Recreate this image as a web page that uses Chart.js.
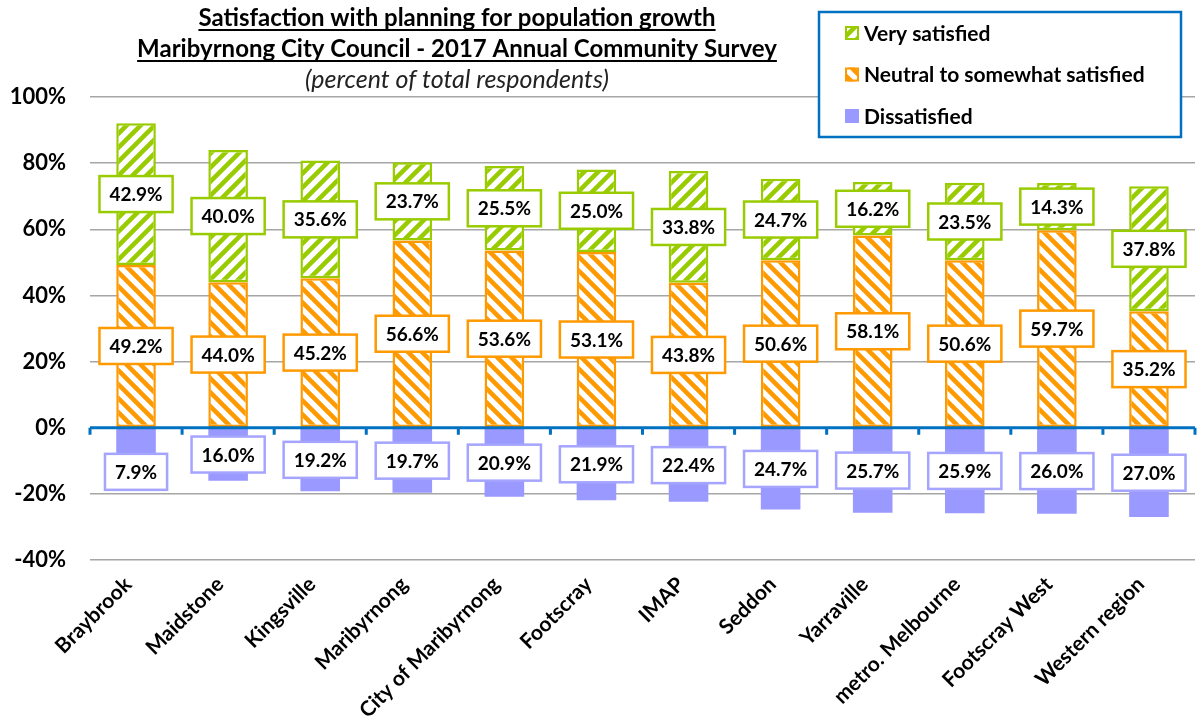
<!DOCTYPE html>
<html>
<head>
<meta charset="utf-8">
<script src="https://cdn.jsdelivr.net/npm/chart.js@4"></script>
<style>
  html, body { margin: 0; padding: 0; background: #fff; }
  #wrap { width: 1197px; height: 725px; }
</style>
</head>
<body>
<div id="wrap"><canvas id="satChart" width="1197" height="725"></canvas></div>
<script>
const categories = ['Braybrook', 'Maidstone', 'Kingsville', 'Maribyrnong', 'City of Maribyrnong', 'Footscray',
    'IMAP', 'Seddon', 'Yarraville', 'metro. Melbourne', 'Footscray West', 'Western region'];
const verySatisfied = [42.9, 40.0, 35.6, 23.7, 25.5, 25.0, 33.8, 24.7, 16.2, 23.5, 14.3, 37.8];
const neutral = [49.2, 44.0, 45.2, 56.6, 53.6, 53.1, 43.8, 50.6, 58.1, 50.6, 59.7, 35.2];
const dissatisfied = [-7.9, -16.0, -19.2, -19.7, -20.9, -21.9, -22.4, -24.7, -25.7, -25.9, -26.0, -27.0];
const yTicks = [100, 80, 60, 40, 20, 0, -20, -40];
const titleLines = ['Satisfaction with planning for population growth',
    'Maribyrnong City Council - 2017 Annual Community Survey'];
const subTitle = '(percent of total respondents)';

const GREEN = '#99cc00';
const ORANGE = '#ff9900';
const PURPLE = '#9999ff';
const BLUE = '#0070c0';
const FONT = 'Lato, "Open Sans", sans-serif';

function stripes(color, dir) {
    const s = 14;
    const c = document.createElement('canvas');
    c.width = s; c.height = s;
    const g = c.getContext('2d');
    g.fillStyle = '#fff';
    g.fillRect(0, 0, s, s);
    g.strokeStyle = color;
    g.lineWidth = 4.5;
    g.beginPath();
    for (let k = -1; k <= 1; k++) {
        if (dir === '/') {
            g.moveTo(k * s - 2, s + 2);
            g.lineTo(k * s + s + 2, -2);
        } else {
            g.moveTo(k * s - 2, -2);
            g.lineTo(k * s + s + 2, s + 2);
        }
    }
    g.stroke();
    return g.createPattern(c, 'repeat');
}

const greenFill = stripes(GREEN, '/');
const orangeFill = stripes(ORANGE, '\\');

// value labels in white boxes
const boxLabels = {
    id: 'boxLabels',
    afterDatasetsDraw(chart) {
        const ctx = chart.ctx;
        const zeroY = chart.scales.y.getPixelForValue(0);
        ctx.save();
        ctx.font = 'bold 19px ' + FONT;
        ctx.textAlign = 'center';
        ctx.textBaseline = 'middle';
        chart.data.datasets.forEach((ds, i) => {
            const meta = chart.getDatasetMeta(i);
            meta.data.forEach((el, j) => {
                const v = ds.data[j];
                const txt = Math.abs(v).toFixed(1) + '%';
                const w = ctx.measureText(txt).width + 20;
                const h = 36;
                let cy = (el.y + el.base) / 2;
                if (v < 0 && cy - h / 2 < zeroY + 4) cy = el.y + h / 2;
                ctx.fillStyle = '#fff';
                ctx.fillRect(el.x - w / 2, cy - h / 2, w, h);
                ctx.strokeStyle = ds.labelBorder;
                ctx.lineWidth = 2.5;
                ctx.strokeRect(el.x - w / 2, cy - h / 2, w, h);
                ctx.fillStyle = '#000';
                ctx.fillText(txt, el.x, cy + 1);
            });
        });
        ctx.restore();
    }
};

// blue zero axis with tick marks between categories
const zeroAxis = {
    id: 'zeroAxis',
    afterDatasetsDraw(chart) {
        const ctx = chart.ctx;
        const area = chart.chartArea;
        const y0 = chart.scales.y.getPixelForValue(0);
        const step = (area.right - area.left) / categories.length;
        ctx.save();
        ctx.strokeStyle = BLUE;
        ctx.lineWidth = 3;
        ctx.beginPath();
        ctx.moveTo(area.left, y0);
        ctx.lineTo(area.right, y0);
        for (let i = 0; i <= categories.length; i++) {
            const x = area.left + i * step;
            ctx.moveTo(x, y0);
            ctx.lineTo(x, y0 + 7);
        }
        ctx.stroke();
        ctx.restore();
    }
};

// title and legend box
const decor = {
    id: 'decor',
    afterDraw(chart) {
        const ctx = chart.ctx;
        ctx.save();
        ctx.fillStyle = '#000';
        ctx.textAlign = 'center';
        ctx.textBaseline = 'alphabetic';
        ctx.font = 'bold 24px ' + FONT;
        const cx = 457;
        titleLines.forEach((t, i) => {
            const by = 26 + i * 31;
            ctx.fillText(t, cx, by);
            const w = ctx.measureText(t).width;
            ctx.fillRect(cx - w / 2, by + 3, w, 2);
        });
        ctx.font = 'italic 25px ' + FONT;
        ctx.fillStyle = '#222';
        ctx.fillText(subTitle, cx, 88);

        // legend
        ctx.fillStyle = '#fff';
        ctx.fillRect(819, 12, 362, 125);
        ctx.strokeStyle = BLUE;
        ctx.lineWidth = 2.5;
        ctx.strokeRect(819, 12, 362, 125);
        const items = [chart.data.datasets[2], chart.data.datasets[1], chart.data.datasets[0]];
        ctx.font = 'bold 21px ' + FONT;
        ctx.textAlign = 'left';
        ctx.textBaseline = 'middle';
        items.forEach((ds, i) => {
            const y = 33 + i * 41.5;
            ctx.fillStyle = ds.backgroundColor;
            ctx.fillRect(845, y - 7, 14, 14);
            if (ds.borderWidth) {
                ctx.strokeStyle = ds.borderColor;
                ctx.lineWidth = 2;
                ctx.strokeRect(846, y - 6, 12, 12);
            }
            ctx.fillStyle = '#000';
            ctx.fillText(ds.label, 864, y + 1);
        });
        ctx.restore();
    }
};

new Chart(document.getElementById('satChart'), {
    type: 'bar',
    data: {
        labels: categories,
        datasets: [{
            label: 'Dissatisfied',
            data: dissatisfied,
            backgroundColor: PURPLE,
            borderWidth: 0,
            labelBorder: '#a5a5ff'
        }, {
            label: 'Neutral to somewhat satisfied',
            data: neutral,
            backgroundColor: orangeFill,
            borderColor: ORANGE,
            borderWidth: 2.5,
            borderSkipped: false,
            labelBorder: ORANGE
        }, {
            label: 'Very satisfied',
            data: verySatisfied,
            backgroundColor: greenFill,
            borderColor: GREEN,
            borderWidth: 2.5,
            borderSkipped: false,
            labelBorder: GREEN
        }]
    },
    options: {
        responsive: false,
        animation: false,
        layout: { padding: { top: 97, right: 2, left: 0, bottom: 0 } },
        datasets: { bar: { categoryPercentage: 1, barPercentage: 0.43 } },
        plugins: {
            legend: { display: false },
            title: { display: false },
            tooltip: { enabled: false }
        },
        scales: {
            x: {
                stacked: true,
                grid: { display: false },
                border: { display: false },
                ticks: {
                    color: '#000',
                    font: { family: FONT, size: 21, weight: 'bold' },
                    minRotation: 45,
                    maxRotation: 45,
                    autoSkip: false,
                    padding: 4,
                    labelOffset: -8
                },
                afterFit(scale) { scale.height = 165; }
            },
            y: {
                stacked: true,
                min: -40,
                max: 100,
                afterBuildTicks(scale) { scale.ticks = yTicks.map(v => ({ value: v })); },
                grid: {
                    color: ctx => ctx.tick && ctx.tick.value === 0 ? 'rgba(0,0,0,0)' : '#a6a6a6',
                    lineWidth: 1.5,
                    drawTicks: false
                },
                border: { display: false },
                ticks: {
                    color: '#000',
                    font: { family: FONT, size: 22, weight: 'bold' },
                    padding: 24,
                    callback: v => v + '%'
                },
                afterFit(scale) { scale.width = 90; }
            }
        }
    },
    plugins: [zeroAxis, boxLabels, decor]
});
</script>
</body>
</html>
